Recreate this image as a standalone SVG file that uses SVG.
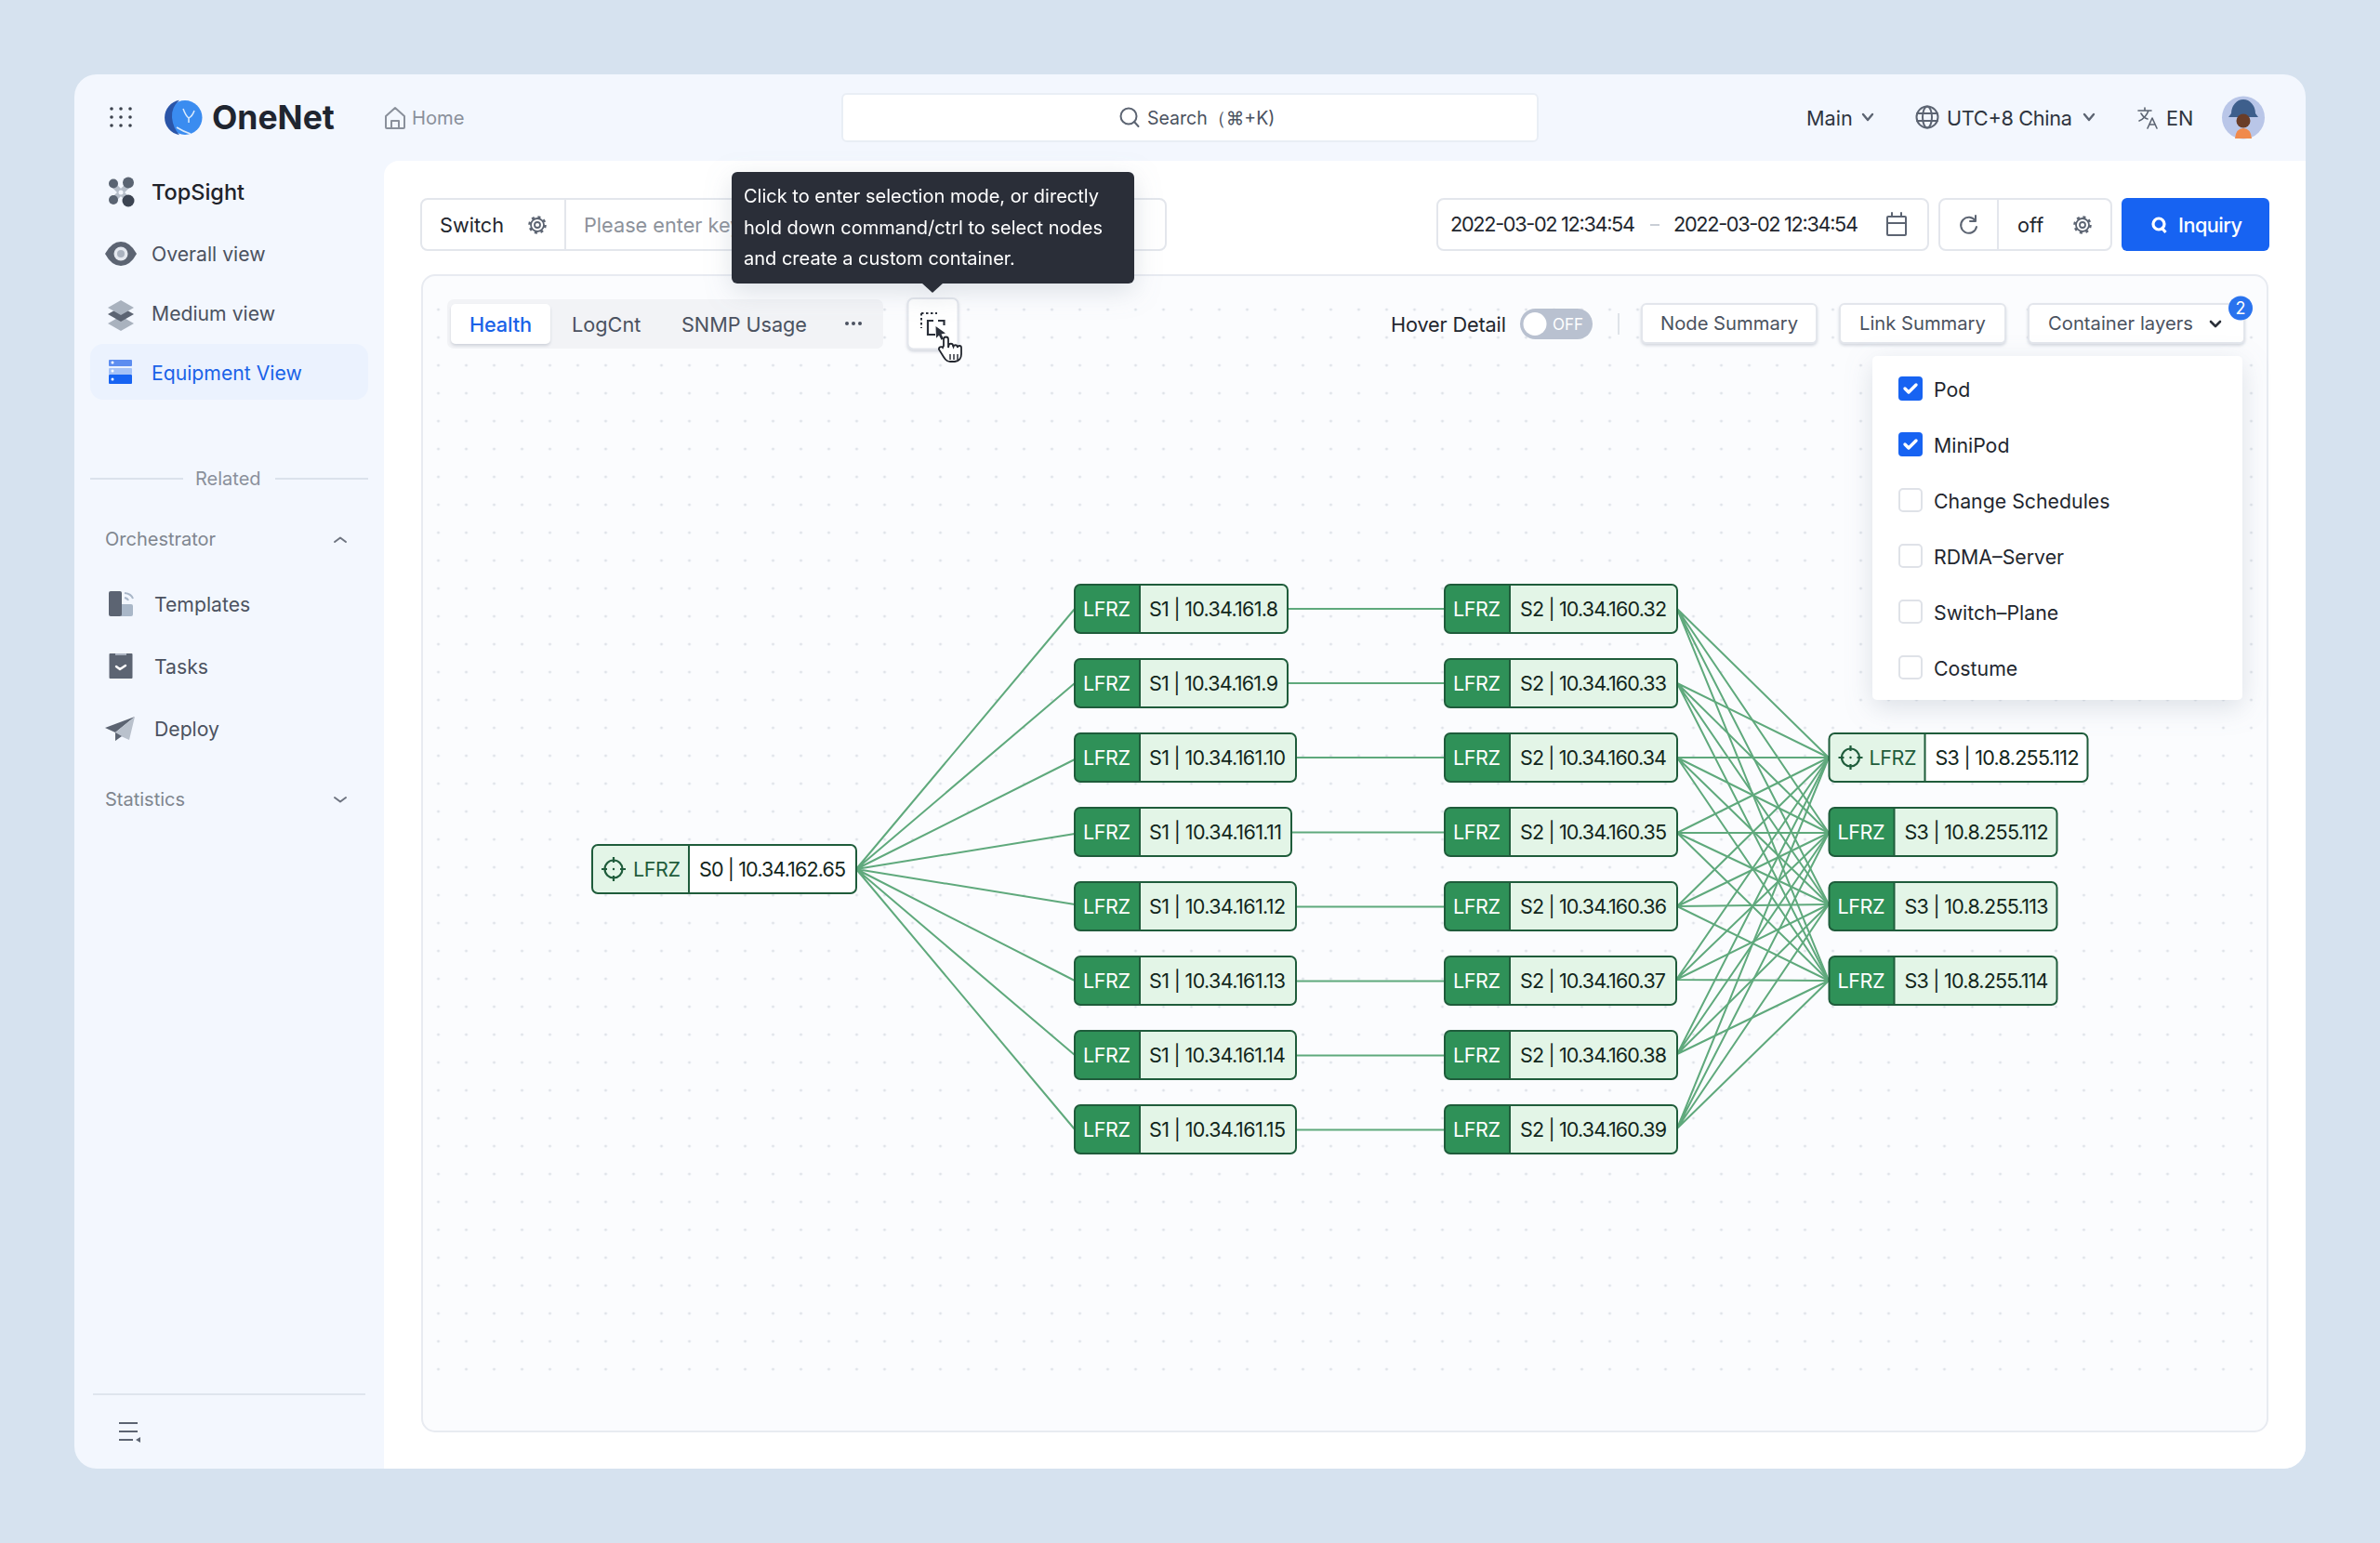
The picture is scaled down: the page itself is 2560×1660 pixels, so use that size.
<svg xmlns="http://www.w3.org/2000/svg" xmlns:xlink="http://www.w3.org/1999/xlink" width="2560" height="1660" viewBox="0 0 2560 1660">
<style>
text{font-family:Inter,"Noto Sans","Liberation Sans",sans-serif;font-size:21.700px;fill:#22262e}
.g{fill:#4b5260}.m{fill:#8a909b}.box{fill:#fff;stroke:#e3e6ec;stroke-width:2}
.ic{fill:none;stroke:#5c6472;stroke-width:2;stroke-linecap:round;stroke-linejoin:round}
.sec{font-size:20px;fill:#80868f}
.e{stroke:#5fa97c;stroke-width:2;fill:none}
.nb{fill:#e3f5e7}.nw{fill:#fff}.nf{fill:none;stroke:#1f5c3b;stroke-width:2}
.nh{fill:#2f9158}.nl{fill:#fff;font-size:21.500px;letter-spacing:-.4px}.nt{font-size:21.500px;fill:#12261b}.nd{stroke:#1f5c3b;stroke-width:2}
.ng{font-size:21.500px;fill:#1f5c3b;letter-spacing:-.4px}
.tt{fill:#fff;font-size:20px}
.cb{fill:#fff;stroke:#dfe2e8;stroke-width:2}.ck{fill:#1763f2}.ckm{fill:none;stroke:#fff;stroke-width:3.400;stroke-linecap:round;stroke-linejoin:round}
.btn{fill:#fff;stroke:#e3e6ec;stroke-width:2}
.dd{font-size:21.300px}
.sb{font-size:21.200px}
</style>
<defs>
<pattern id="dots" x="456.500" y="318" width="30" height="30" patternUnits="userSpaceOnUse"><circle cx="15" cy="15" r="1.500" fill="#dfe3e9"/></pattern>
<filter id="sh" x="-20%" y="-20%" width="140%" height="150%"><feDropShadow dx="0" dy="8" stdDeviation="14" flood-color="#8b96a8" flood-opacity=".28"/></filter>
<filter id="sh2" x="-10%" y="-20%" width="120%" height="150%"><feDropShadow dx="0" dy="2" stdDeviation="1.500" flood-color="#9aa3b2" flood-opacity=".4"/></filter>
<path id="head" class="nh" d="M6 0H70V52H6a6 6 0 0 1-6-6V6a6 6 0 0 1 6-6z"/>
<path id="hd2" class="nb" d="M6 0H104V52H6a6 6 0 0 1-6-6V6a6 6 0 0 1 6-6z"/>
<g id="target" fill="none" stroke="#1f5c3b" stroke-width="2.200"><circle r="9.500"/><path d="M0-13v6M0 7v6M-13 0h6M7 0h6"/><circle r="1.200" fill="#1f5c3b" stroke="none"/></g>
<g id="gear" fill="none" stroke="#5c6472" stroke-width="1.800"><circle r="7" stroke-dasharray="none"/><circle r="8.500" stroke-width="2.500" stroke-dasharray="3 3.700"/><circle r="3"/></g>
<path id="chev" fill="none" stroke="#5c6472" stroke-width="2.400" stroke-linecap="round" stroke-linejoin="round" d="M-5-3L0 3 5-3"/>
</defs>

<rect width="2560" height="1660" fill="#d6e2ef"/>
<rect x="80" y="80" width="2400" height="1500" rx="24" fill="#f3f7fe"/>
<path d="M413 189a16 16 0 0 1 16-16H2480V1556a24 24 0 0 1-24 24H413z" fill="#fff"/>

<g id="topbar">
<g fill="#3c424d"><circle cx="120" cy="117" r="1.800"/><circle cx="130" cy="117" r="1.800"/><circle cx="140" cy="117" r="1.800"/><circle cx="120" cy="126" r="1.800"/><circle cx="130" cy="126" r="1.800"/><circle cx="140" cy="126" r="1.800"/><circle cx="120" cy="135" r="1.800"/><circle cx="130" cy="135" r="1.800"/><circle cx="140" cy="135" r="1.800"/></g>
<g id="logo"><circle cx="199" cy="126.500" r="18.500" fill="#3a8cf0"/><path d="M193 107.800a19 19 0 0 0 0 37.500q-7-8-8-18.800t8-18.700z" fill="#2a55a8"/><path d="M197 117q3 8 6 10 4-2 6-8M203 127v5M190 137q8 5 15 7" fill="none" stroke="#dcebfc" stroke-width="1.500"/></g>
<text x="228" y="139" style="font-size:35.500px;font-weight:700;fill:#1f2530">OneNet</text>
<path class="ic" d="M415 125l10-9 10 9v12a1 1 0 0 1-1 1h-18a1 1 0 0 1-1-1zM421 138v-8h8v8" style="stroke:#8a909b"/>
<text x="443" y="134" class="m" style="font-size:20.200px">Home</text>
<rect x="906" y="101" width="748" height="51" rx="5" fill="#fff" stroke="#e9eef5" stroke-width="2"/>
<circle cx="1214" cy="125" r="8.500" class="ic"/><path class="ic" d="M1220 131l4.500 5"/>
<text x="1234" y="134" class="g" style="font-size:19.500px">Search（⌘+K)</text>
<text x="1943" y="135" class="g" style="fill:#2f3540">Main</text><use href="#chev" x="2009" y="126"/>
<g class="ic"><circle cx="2073" cy="126" r="11.500"/><ellipse cx="2073" cy="126" rx="5" ry="11.500"/><path d="M2062 122h22M2062 130h22"/></g>
<text x="2094" y="135" style="fill:#2f3540" textLength="135">UTC+8 China</text><use href="#chev" x="2247" y="126"/>
<path class="ic" style="stroke-width:1.600" d="M2300 119h14M2307 116v3M2311 119q-3 8-10 11M2303 122q3 5 7 6M2310 138l5-11 5 11M2312 134h6"/>
<text x="2330" y="135" style="fill:#2f3540">EN</text>
<g id="avatar"><circle cx="2413" cy="126.500" r="23" fill="#b9c6e8"/><path d="M2400 122a13 15 0 0 1 26 0l3 4h-32z" fill="#3e5f8c"/><circle cx="2413" cy="130" r="7.500" fill="#6a3d28"/><path d="M2404 149q1-11 9-11t9 11z" fill="#f08a4b"/></g>
</g>

<g id="sidebar">
<g id="i-top"><path d="M122 199L138 215M138 199L122 215" stroke="#b6bec9" stroke-width="6"/><circle cx="122" cy="197.500" r="5" fill="#5a6472"/><circle cx="138" cy="196.500" r="6" fill="#5a6472"/><circle cx="122" cy="215" r="5" fill="#5a6472"/><circle cx="138" cy="216" r="6.500" fill="#3c4452"/><circle cx="130" cy="207" r="2.500" fill="#f3f7fe"/></g>
<text x="163" y="215" style="font-size:23.500px;font-weight:500;fill:#1e222a">TopSight</text>
<g id="i-eye"><path d="M113 273q7-13 17-13t17 13q-7 13-17 13t-17-13z" fill="#5c6472"/><circle cx="130" cy="273" r="7.500" fill="#e4e8ef"/><circle cx="130" cy="273" r="4" fill="#aab2bf"/></g>
<text x="163" y="281" class="g sb">Overall view</text>
<g id="i-layers"><path d="M130 340l14 8-14 8-14-8z" fill="#a9b2be"/><path d="M130 330l14 8-14 8-14-8z" fill="#5c6472"/><path d="M130 323l14 8-14 8-14-8z" fill="#a9b2be"/></g>
<text x="163" y="345" class="g sb">Medium view</text>
<rect x="97" y="370" width="299" height="60" rx="14" fill="#ebf2fe"/>
<g id="i-equip"><rect x="117" y="387" width="25" height="7" rx="1" fill="#5d8df0"/><rect x="117" y="396" width="25" height="7" rx="1" fill="#a5c2f7"/><rect x="117" y="403" width="25" height="10" rx="1" fill="#1763f2"/><circle cx="121" cy="390" r="1.500" fill="#fff"/><circle cx="121" cy="399" r="1.500" fill="#fff"/><circle cx="121" cy="408" r="1.500" fill="#fff"/></g>
<text x="163" y="409" class="sb" style="fill:#1a62e8">Equipment View</text>
<path d="M97 515H197M296 515H396" stroke="#dbe2ec" stroke-width="2"/>
<text x="210" y="522" class="m" style="font-size:20px">Related</text>
<text x="113" y="587" class="sec">Orchestrator</text>
<path class="ic" style="stroke:#6e7480" d="M360 583l6-4.500 6 4.500"/>
<g id="i-templates"><path d="M130 650h11a2 2 0 0 1 2 2v9a2 2 0 0 1-2 2h-11z" fill="#a9b7c8"/><rect x="117" y="636" width="14" height="27" rx="2" fill="#5c6472"/><path d="M134 638a11 8 0 0 1 9 6M134 643a6 4 0 0 1 4 3" fill="none" stroke="#a9b7c8" stroke-width="2"/></g>
<text x="166" y="658" class="g sb">Templates</text>
<g id="i-tasks"><rect x="117.500" y="703" width="25" height="27" rx="1" fill="#5c6472"/><path d="M124 703h12v2h-12z" fill="#aab2bf"/><path d="M125 717l4 3 6-4" fill="none" stroke="#fff" stroke-width="2.400" stroke-linecap="round" stroke-linejoin="round"/></g>
<text x="166" y="725" class="g sb">Tasks</text>
<g id="i-deploy"><path d="M113 783l32-12-21 17z" fill="#5c6472"/><path d="M145 771l-21 17 0 9 6-5 9 4z" fill="#b9c1cc"/><path d="M124 788v9l7-5z" fill="#5c6472"/></g>
<text x="166" y="792" class="g sb">Deploy</text>
<text x="113" y="867" class="sec">Statistics</text>
<path class="ic" style="stroke:#6e7480" d="M360 858l6 4.500 6-4.500"/>
<path d="M100 1500H393" stroke="#dfe5ee" stroke-width="2"/>
<path d="M128 1531h20M128 1540h20M128 1549h15" stroke="#5c6472" stroke-width="2"/><path d="M151 1546v6l-5-3z" fill="#5c6472"/>
</g>

<g id="toolbar">
<rect class="box" x="453" y="214" width="801" height="55" rx="7"/>
<path d="M608 214V269" stroke="#e3e6ec" stroke-width="2"/>
<text x="473" y="250">Switch</text><use href="#gear" x="578" y="242"/>
<text x="628" y="250" style="fill:#8d929b">Please enter key</text>
<rect class="box" x="1546" y="214" width="528" height="55" rx="7"/>
<text x="1560" y="249" textLength="199">2022-03-02 12:34:54</text>
<path d="M1775 242h10" stroke="#c9ced6" stroke-width="2"/>
<text x="1800" y="249" textLength="199">2022-03-02 12:34:54</text>
<g class="ic"><rect x="2030" y="233" width="20" height="20" rx="1"/><path d="M2030 240h20M2035 229v4M2045 229v4"/></g>
<rect class="box" x="2086" y="214" width="185" height="55" rx="7"/>
<path d="M2149 214V269" stroke="#e3e6ec" stroke-width="2"/>
<path class="ic" d="M2125 238a8.500 8.500 0 1 0 1 6M2125 232v6h-6"/>
<text x="2170" y="250">off</text><use href="#gear" x="2240" y="242"/>
<rect x="2282" y="213" width="159" height="57" rx="6" fill="#1763f2"/>
<circle cx="2322" cy="241" r="6" fill="none" stroke="#fff" stroke-width="3.200"/><path d="M2326 246l3.500 4" stroke="#fff" stroke-width="3.200"/>
<text x="2343" y="250" style="fill:#fff;font-weight:500" textLength="69">Inquiry</text>
</g>

<rect id="canvas" x="454" y="296" width="1985" height="1244" rx="14" fill="#fbfcfe" stroke="#e8ebf1" stroke-width="2"/>
<rect x="456" y="318" width="1980" height="1170" fill="url(#dots)"/>

<g id="tabs">
<rect x="481" y="322" width="469" height="53" rx="7" fill="#f2f3f6"/>
<rect x="485" y="327" width="107" height="43" rx="5" fill="#fff" filter="url(#sh2)"/>
<text x="505" y="357" style="fill:#1a62e8;font-weight:500" textLength="67">Health</text>
<text x="615" y="357" class="g">LogCnt</text>
<text x="733" y="357" class="g" textLength="135">SNMP Usage</text>
<g fill="#4b5260"><circle cx="911" cy="348" r="2"/><circle cx="918" cy="348" r="2"/><circle cx="925" cy="348" r="2"/></g>
<rect x="976.500" y="321" width="54" height="54.500" rx="6" fill="#fff" stroke="#e3e6ec" stroke-width="2" filter="url(#sh2)"/>
<path d="M991 337h17M991 337v16" stroke="#2b303a" stroke-width="2" stroke-dasharray="2.500 2.500" fill="none"/>
<path d="M1004 345H998v15h8M1009 345h6.500v5" stroke="#2b303a" stroke-width="2.200" fill="none"/>
<path d="M1006.500 351l10.500 7.500-4.500 1 2.500 5-2.500 1.200-2.500-5-3 3z" fill="#2b303a"/>
<path id="hand" d="M1015 372v-7a2.500 2.500 0 0 1 5 0v9l.500-2a2.200 2.200 0 0 1 4.500 0l.500 1a2.200 2.200 0 0 1 4.300 0l.200 1a2 2 0 0 1 4 0v7q0 7-7 8h-5q-4 0-7-5l-5-8a2.300 2.300 0 0 1 4-2z" fill="#fff" stroke="#22262e" stroke-width="1.800"/>
<path d="M1022 381v6M1026 381v6M1030 381v6" stroke="#22262e" stroke-width="1.400"/>
</g>

<g id="controls">
<text x="1496" y="357" textLength="124">Hover Detail</text>
<rect x="1635" y="332" width="78" height="33" rx="16.500" fill="#b9c1d0"/><circle cx="1651" cy="348.500" r="12.500" fill="#fff"/>
<text x="1670" y="355" style="fill:#fff;font-size:17px">OFF</text>
<path d="M1741 337V360" stroke="#dfe3e9" stroke-width="2"/>
<rect class="btn" x="1766" y="327" width="188" height="42" rx="5" filter="url(#sh2)"/><text x="1786" y="355" class="g" style="font-size:20.200px">Node Summary</text>
<rect class="btn" x="1979" y="327" width="178" height="42" rx="5" filter="url(#sh2)"/><text x="2000" y="355" class="g" style="font-size:20.200px">Link Summary</text>
<rect class="btn" x="2182" y="327" width="232" height="42" rx="5" filter="url(#sh2)"/><text x="2203" y="355" class="g" style="font-size:20.200px" textLength="156">Container layers</text>
<path d="M2378 346l5 5 5-5" fill="none" stroke="#2b303a" stroke-width="2.600" stroke-linecap="round" stroke-linejoin="round"/>
<circle cx="2410" cy="331.500" r="13" fill="#2a73ee"/><text x="2410" y="338" text-anchor="middle" style="fill:#fff;font-size:18px">2</text>
</g>

<g id="connectors" class="e">
<path d="M921 935L1156 655M921 935L1156 735M921 935L1156 817M921 935L1156 897M921 935L1156 973M921 935L1156 1055M921 935L1156 1135M921 935L1156 1215"/>
<path d="M1385 655H1554M1385 735H1554M1394 815H1554M1389 895.500H1554M1394 975.500H1554M1394 1055.500H1554M1394 1135.500H1554M1394 1215.500H1554"/>
<path d="M1804 655L1967 815M1804 655L1967 896M1804 655L1967 973M1804 655L1967 1055"/>
<path d="M1804 735L1967 815M1804 735L1967 896M1804 735L1967 973M1804 735L1967 1055"/>
<path d="M1804 815L1967 815M1804 815L1967 896M1804 815L1967 973M1804 815L1967 1055"/>
<path d="M1804 896L1967 815M1804 896L1967 896M1804 896L1967 973M1804 896L1967 1055"/>
<path d="M1804 975L1967 815M1804 975L1967 896M1804 975L1967 973M1804 975L1967 1055"/>
<path d="M1803 1054L1967 815M1803 1054L1967 896M1803 1054L1967 973M1803 1054L1967 1055"/>
<path d="M1804 1134L1967 815M1804 1134L1967 896M1804 1134L1967 973M1804 1134L1967 1055"/>
<path d="M1804 1214L1967 815M1804 1214L1967 896M1804 1214L1967 973M1804 1214L1967 1055"/>
</g>

<g id="n-s0" transform="translate(637,909)"><rect class="nw" width="284" height="52" rx="6"/><path class="nb" d="M6 0H104V52H6a6 6 0 0 1-6-6V6a6 6 0 0 1 6-6z"/><rect class="nf" width="284" height="52" rx="6"/><path class="nd" d="M104 0V52"/><use href="#target" x="23" y="26"/><text class="ng" x="44" y="34">LFRZ</text><text class="nt" x="115" y="34" textLength="158">S0 | 10.34.162.65</text></g>

<g id="n-s1-8" transform="translate(1156,629)"><rect class="nb" width="229" height="52" rx="6"/><use href="#head"/><rect class="nf" width="229" height="52" rx="6"/><path class="nd" d="M70 0V52"/><text class="nl" x="9" y="34">LFRZ</text><text class="nt" x="80" y="34" textLength="139">S1 | 10.34.161.8</text></g>
<g id="n-s1-9" transform="translate(1156,709)"><rect class="nb" width="229" height="52" rx="6"/><use href="#head"/><rect class="nf" width="229" height="52" rx="6"/><path class="nd" d="M70 0V52"/><text class="nl" x="9" y="34">LFRZ</text><text class="nt" x="80" y="34" textLength="139">S1 | 10.34.161.9</text></g>
<g id="n-s1-10" transform="translate(1156,789)"><rect class="nb" width="238" height="52" rx="6"/><use href="#head"/><rect class="nf" width="238" height="52" rx="6"/><path class="nd" d="M70 0V52"/><text class="nl" x="9" y="34">LFRZ</text><text class="nt" x="80" y="34" textLength="147">S1 | 10.34.161.10</text></g>
<g id="n-s1-11" transform="translate(1156,869)"><rect class="nb" width="233" height="52" rx="6"/><use href="#head"/><rect class="nf" width="233" height="52" rx="6"/><path class="nd" d="M70 0V52"/><text class="nl" x="9" y="34">LFRZ</text><text class="nt" x="80" y="34" textLength="143">S1 | 10.34.161.11</text></g>
<g id="n-s1-12" transform="translate(1156,949)"><rect class="nb" width="238" height="52" rx="6"/><use href="#head"/><rect class="nf" width="238" height="52" rx="6"/><path class="nd" d="M70 0V52"/><text class="nl" x="9" y="34">LFRZ</text><text class="nt" x="80" y="34" textLength="147">S1 | 10.34.161.12</text></g>
<g id="n-s1-13" transform="translate(1156,1029)"><rect class="nb" width="238" height="52" rx="6"/><use href="#head"/><rect class="nf" width="238" height="52" rx="6"/><path class="nd" d="M70 0V52"/><text class="nl" x="9" y="34">LFRZ</text><text class="nt" x="80" y="34" textLength="147">S1 | 10.34.161.13</text></g>
<g id="n-s1-14" transform="translate(1156,1109)"><rect class="nb" width="238" height="52" rx="6"/><use href="#head"/><rect class="nf" width="238" height="52" rx="6"/><path class="nd" d="M70 0V52"/><text class="nl" x="9" y="34">LFRZ</text><text class="nt" x="80" y="34" textLength="147">S1 | 10.34.161.14</text></g>
<g id="n-s1-15" transform="translate(1156,1189)"><rect class="nb" width="238" height="52" rx="6"/><use href="#head"/><rect class="nf" width="238" height="52" rx="6"/><path class="nd" d="M70 0V52"/><text class="nl" x="9" y="34">LFRZ</text><text class="nt" x="80" y="34" textLength="147">S1 | 10.34.161.15</text></g>

<g id="n-s2-32" transform="translate(1554,629)"><rect class="nb" width="250" height="52" rx="6"/><use href="#head"/><rect class="nf" width="250" height="52" rx="6"/><path class="nd" d="M70 0V52"/><text class="nl" x="9" y="34">LFRZ</text><text class="nt" x="81" y="34" textLength="158">S2 | 10.34.160.32</text></g>
<g id="n-s2-33" transform="translate(1554,709)"><rect class="nb" width="250" height="52" rx="6"/><use href="#head"/><rect class="nf" width="250" height="52" rx="6"/><path class="nd" d="M70 0V52"/><text class="nl" x="9" y="34">LFRZ</text><text class="nt" x="81" y="34" textLength="158">S2 | 10.34.160.33</text></g>
<g id="n-s2-34" transform="translate(1554,789)"><rect class="nb" width="250" height="52" rx="6"/><use href="#head"/><rect class="nf" width="250" height="52" rx="6"/><path class="nd" d="M70 0V52"/><text class="nl" x="9" y="34">LFRZ</text><text class="nt" x="81" y="34" textLength="158">S2 | 10.34.160.34</text></g>
<g id="n-s2-35" transform="translate(1554,869)"><rect class="nb" width="250" height="52" rx="6"/><use href="#head"/><rect class="nf" width="250" height="52" rx="6"/><path class="nd" d="M70 0V52"/><text class="nl" x="9" y="34">LFRZ</text><text class="nt" x="81" y="34" textLength="158">S2 | 10.34.160.35</text></g>
<g id="n-s2-36" transform="translate(1554,949)"><rect class="nb" width="250" height="52" rx="6"/><use href="#head"/><rect class="nf" width="250" height="52" rx="6"/><path class="nd" d="M70 0V52"/><text class="nl" x="9" y="34">LFRZ</text><text class="nt" x="81" y="34" textLength="158">S2 | 10.34.160.36</text></g>
<g id="n-s2-37" transform="translate(1554,1029)"><rect class="nb" width="249" height="52" rx="6"/><use href="#head"/><rect class="nf" width="249" height="52" rx="6"/><path class="nd" d="M70 0V52"/><text class="nl" x="9" y="34">LFRZ</text><text class="nt" x="81" y="34" textLength="157">S2 | 10.34.160.37</text></g>
<g id="n-s2-38" transform="translate(1554,1109)"><rect class="nb" width="250" height="52" rx="6"/><use href="#head"/><rect class="nf" width="250" height="52" rx="6"/><path class="nd" d="M70 0V52"/><text class="nl" x="9" y="34">LFRZ</text><text class="nt" x="81" y="34" textLength="158">S2 | 10.34.160.38</text></g>
<g id="n-s2-39" transform="translate(1554,1189)"><rect class="nb" width="250" height="52" rx="6"/><use href="#head"/><rect class="nf" width="250" height="52" rx="6"/><path class="nd" d="M70 0V52"/><text class="nl" x="9" y="34">LFRZ</text><text class="nt" x="81" y="34" textLength="158">S2 | 10.34.160.39</text></g>

<g id="n-s3-a" transform="translate(1967.500,789)"><rect class="nw" width="278" height="52" rx="6"/><use href="#hd2"/><rect class="nf" width="278" height="52" rx="6"/><path class="nd" d="M103 0V52"/><use href="#target" x="23" y="26"/><text class="ng" x="43" y="34">LFRZ</text><text class="nt" x="114" y="34" textLength="155">S3 | 10.8.255.112</text></g>
<g id="n-s3-112" transform="translate(1967.500,869)"><rect class="nb" width="245" height="52" rx="6"/><use href="#head"/><rect class="nf" width="245" height="52" rx="6"/><path class="nd" d="M70 0V52"/><text class="nl" x="9" y="34">LFRZ</text><text class="nt" x="81" y="34" textLength="155">S3 | 10.8.255.112</text></g>
<g id="n-s3-113" transform="translate(1967.500,949)"><rect class="nb" width="245" height="52" rx="6"/><use href="#head"/><rect class="nf" width="245" height="52" rx="6"/><path class="nd" d="M70 0V52"/><text class="nl" x="9" y="34">LFRZ</text><text class="nt" x="81" y="34" textLength="155">S3 | 10.8.255.113</text></g>
<g id="n-s3-114" transform="translate(1967.500,1029)"><rect class="nb" width="245" height="52" rx="6"/><use href="#head"/><rect class="nf" width="245" height="52" rx="6"/><path class="nd" d="M70 0V52"/><text class="nl" x="9" y="34">LFRZ</text><text class="nt" x="81" y="34" textLength="155">S3 | 10.8.255.114</text></g>

<g id="dropdown">
<rect x="2014" y="383" width="398" height="370" rx="5" fill="#fff" filter="url(#sh)"/>
<rect class="ck" x="2042" y="405" width="26" height="26" rx="4"/><path class="ckm" d="M2049 418l4 4 8-8"/><text class="dd" x="2080" y="427">Pod</text>
<rect class="ck" x="2042" y="465" width="26" height="26" rx="4"/><path class="ckm" d="M2049 478l4 4 8-8"/><text class="dd" x="2080" y="487">MiniPod</text>
<rect class="cb" x="2043" y="526" width="24" height="24" rx="4"/><text class="dd" x="2080" y="547">Change Schedules</text>
<rect class="cb" x="2043" y="586" width="24" height="24" rx="4"/><text class="dd" x="2080" y="607">RDMA–Server</text>
<rect class="cb" x="2043" y="646" width="24" height="24" rx="4"/><text class="dd" x="2080" y="667">Switch–Plane</text>
<rect class="cb" x="2043" y="706" width="24" height="24" rx="4"/><text class="dd" x="2080" y="727">Costume</text>
</g>

<g id="tooltip" filter="url(#sh)">
<rect x="787" y="185" width="433" height="120" rx="6" fill="#2b2f39"/>
<path d="M992 305h22l-11 10z" fill="#2b2f39"/>
<text class="tt" x="800" y="218">Click to enter selection mode, or directly</text>
<text class="tt" x="800" y="252">hold down command/ctrl to select nodes</text>
<text class="tt" x="800" y="285">and create a custom container.</text>
</g>
</svg>
